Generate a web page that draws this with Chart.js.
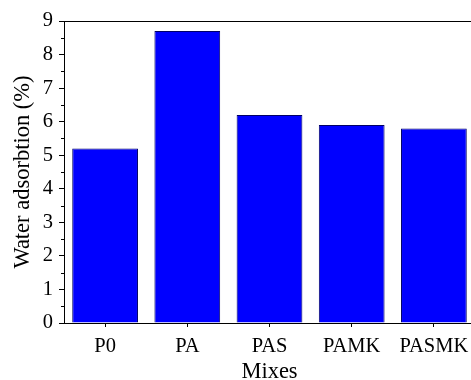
<!DOCTYPE html>
<html>
<head>
<meta charset="utf-8">
<script src="https://cdn.jsdelivr.net/npm/chart.js@4/dist/chart.umd.min.js"></script>
<style>
html,body{margin:0;padding:0;background:#fff;overflow:hidden;}
#wrap{position:relative;width:476px;height:380px;}
</style>
</head>
<body>
<div id="wrap"><canvas id="c"></canvas></div>
<script>
const categories = ['P0', 'PA', 'PAS', 'PAMK', 'PASMK'];
const waterAdsorption = [5.2, 8.7, 6.2, 5.9, 5.8];
const yMin = 0, yMax = 9, yStep = 1;
const yMinorTicks = [0.5, 1.5, 2.5, 3.5, 4.5, 5.5, 6.5, 7.5, 8.5];
const xTitle = 'Mixes';
const yTitle = 'Water adsorbtion (%)';

const serif = '"Liberation Serif", "Times New Roman", serif';

const framePlugin = {
  id: 'frame',
  afterDraw(chart) {
    const ctx = chart.ctx, a = chart.chartArea, y = chart.scales.y;
    ctx.save();
    ctx.strokeStyle = '#000';
    ctx.lineWidth = 1;
    ctx.beginPath();
    ctx.moveTo(a.left, a.top + 0.5);
    ctx.lineTo(a.right, a.top + 0.5);
    yMinorTicks.forEach(v => {
      const py = Math.round(y.getPixelForValue(v)) + 0.5;
      ctx.moveTo(a.left - 3, py);
      ctx.lineTo(a.left, py);
    });
    ctx.stroke();
    ctx.restore();
  }
};

new Chart(document.getElementById('c'), {
  type: 'bar',
  data: {
    labels: categories,
    datasets: [{
      data: waterAdsorption,
      backgroundColor: '#0000FF',
      borderColor: '#000066',
      borderWidth: 1,
      barPercentage: 0.8,
      categoryPercentage: 1.0
    }]
  },
  options: {
    responsive: true,
    maintainAspectRatio: false,
    animation: false,
    layout: { padding: { top: 21, right: 1, left: 0, bottom: 0 } },
    plugins: { legend: { display: false }, tooltip: { enabled: false } },
    scales: {
      x: {
        afterFit(s) { s.height = 57; },
        border: { display: true, color: '#000', width: 1 },
        grid: { display: true, offset: false, drawOnChartArea: false, drawTicks: true, tickLength: 4, color: '#000' },
        ticks: { color: '#000', font: { family: serif, size: 20.5 }, padding: 7 },
        title: { display: true, text: xTitle, color: '#000', font: { family: serif, size: 22.5 }, padding: { top: 0, bottom: -6 } }
      },
      y: {
        min: yMin, max: yMax,
        afterFit(s) { s.width = 64; },
        border: { display: true, color: '#000', width: 1 },
        grid: { display: true, drawOnChartArea: false, drawTicks: true, tickLength: 5, color: '#000' },
        ticks: { stepSize: yStep, color: '#000', font: { family: serif, size: 20.5 }, padding: 6 },
        title: { display: true, text: yTitle, color: '#000', font: { family: serif, size: 22.5 }, padding: { top: 10, bottom: 0 } }
      }
    }
  },
  plugins: [framePlugin]
});
</script>
</body>
</html>
